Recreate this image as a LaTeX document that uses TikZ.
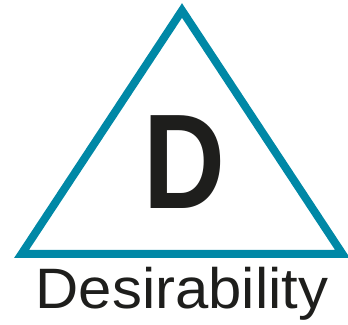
\documentclass[tikz,border=0pt]{standalone}
\usepackage{fontspec}
\setmainfont{Liberation Sans}
\usetikzlibrary{positioning}

\definecolor{triteal}{RGB}{0,136,166}
\definecolor{textdark}{RGB}{30,30,28}

\begin{document}
\begin{tikzpicture}[
x=1pt, y=1pt,
triangle/.style={draw=triteal, line width=8pt, line join=miter},
letter/.style={text=textdark, inner sep=0pt, anchor=base, font=\bfseries\fontsize{135}{135}\selectfont, xscale=0.84, transform shape},
caption/.style={text=textdark, inner sep=0pt, anchor=base, font=\fontsize{57}{57}\selectfont, xscale=1.05, transform shape}
]
\useasboundingbox (0,0) rectangle (348,324);

\coordinate (apex) at (182,313.5);
\coordinate (left) at (21.5,70);
\coordinate (right) at (342.5,70);
\draw[triangle] (left) -- (apex) -- (right) -- cycle;

\node[letter] (big) at (184,115) {D};
\node[caption] (name) at (182,16) {Desirability};
\end{tikzpicture}
\end{document}
